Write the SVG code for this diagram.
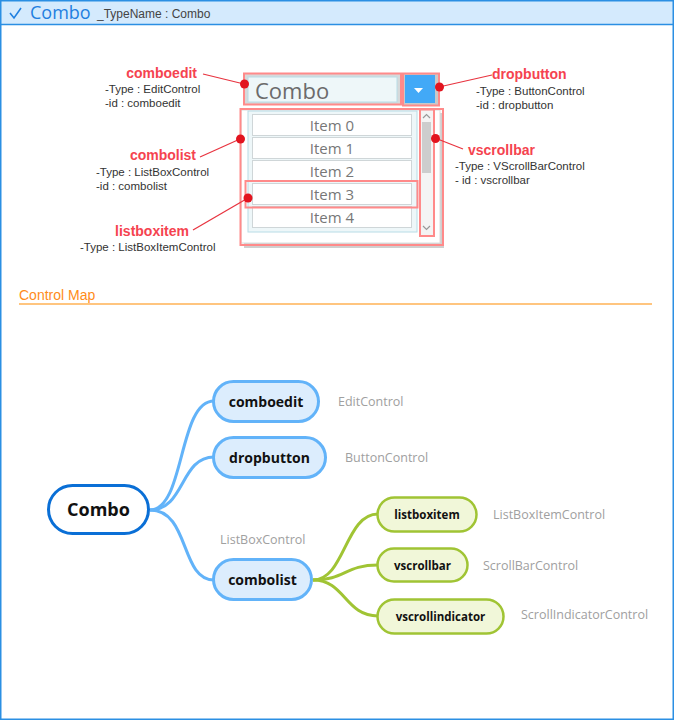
<svg xmlns="http://www.w3.org/2000/svg" width="674" height="720" viewBox="0 0 674 720">
<style>
.lbl{font-family:"Liberation Sans",Arial,sans-serif;font-size:14px;font-weight:bold;fill:#f5434f}
.info{font-family:"Liberation Sans",Arial,sans-serif;font-size:11.5px;fill:#333}
.item{font-family:"Open Sans","Noto Sans",sans-serif;font-size:15px;fill:#777;text-anchor:middle}
.hl{fill:none;stroke:#ff8a8a;stroke-width:2}
.dot{fill:#e2141f}
.lead{stroke:#e8333f;stroke-width:1.2;fill:none}
.n1{fill:#dcedfd;stroke:#62b3f9;stroke-width:3}
.n2{fill:#f1f7d9;stroke:#a0c434;stroke-width:2.5}
.nt{font-family:"Open Sans","Noto Sans",sans-serif;font-weight:bold;fill:#111;text-anchor:middle}
.tp{font-family:"Open Sans","Noto Sans",sans-serif;font-size:12.5px;fill:#a0a0a0}
.lb{fill:#fff;stroke:#cfd6d8;stroke-width:1}
</style>
<rect x="0" y="0" width="674" height="720" fill="#fff"/>
<rect x="0.5" y="0.5" width="673" height="24" fill="#d4eafd"/>
<line x1="0" y1="24.5" x2="674" y2="24.5" stroke="#2b8fe3" stroke-width="1.5"/>
<rect x="0.75" y="0.75" width="672.5" height="718.5" fill="none" stroke="#2b8fe3" stroke-width="1.5"/>
<path d="M10,13 L14,18 L21,8" fill="none" stroke="#1f7fe0" stroke-width="1.6"/>
<text x="30" y="19" font-family="'Open Sans','Noto Sans',sans-serif" font-size="18" fill="#1f7fe0">Combo</text>
<text x="97" y="18" font-family="'Liberation Sans',Arial,sans-serif" font-size="12" fill="#444">_TypeName : Combo</text>

<g id="widget">
<rect x="244" y="74" width="156" height="30" fill="#d6d9da"/>
<rect x="248" y="77" width="149" height="25" fill="#eef7f9" stroke="#b8dce6" stroke-width="1"/>
<text x="255" y="99" font-family="'Open Sans','Noto Sans',sans-serif" font-size="22" fill="#6b6b6b">Combo</text>
<rect x="403" y="74" width="35" height="31" fill="#c9c9c9"/>
<rect x="405" y="75" width="30" height="28" fill="#42a9f7"/>
<path d="M414,88 L423,88 L418.5,93 Z" fill="#fff"/>
<rect x="244" y="113" width="200" height="135" fill="#cfcfcf"/>
<rect x="241" y="110" width="199" height="133" fill="#fff" stroke="#dcdcdc"/>
<rect x="248" y="111" width="169" height="121" fill="#eef7f9" stroke="#b8dce6" stroke-width="1"/>
<rect x="252.5" y="114.5" width="159" height="21" class="lb"/>
<rect x="252.5" y="137.5" width="159" height="21" class="lb"/>
<rect x="252.5" y="160.5" width="159" height="21" class="lb"/>
<rect x="252.5" y="183.5" width="159" height="21" class="lb"/>
<rect x="252.5" y="206.5" width="159" height="21" class="lb"/>
<text x="332" y="131" class="item">Item 0</text>
<text x="332" y="154" class="item">Item 1</text>
<text x="332" y="177" class="item">Item 2</text>
<text x="332" y="200" class="item">Item 3</text>
<text x="332" y="223" class="item">Item 4</text>
<rect x="420" y="111" width="13" height="124" fill="#f4f4f4"/>
<rect x="422" y="122" width="9" height="51" fill="#cdcdcd"/>
<path d="M423,118 L426.5,114.5 L430,118" fill="none" stroke="#999" stroke-width="1.2"/>
<path d="M423,226 L426.5,229.5 L430,226" fill="none" stroke="#999" stroke-width="1.2"/>
<rect x="244" y="73.5" width="157" height="31" class="hl"/>
<rect x="403" y="73.5" width="36" height="32" class="hl"/>
<rect x="240.5" y="109" width="202.5" height="136" class="hl"/>
<rect x="245.5" y="181" width="172" height="26.5" class="hl"/>
<rect x="420" y="109.5" width="14" height="126.5" class="hl"/>
</g>

<g id="annotations">
<line x1="203" y1="74" x2="244" y2="84" class="lead"/>
<line x1="439" y1="87" x2="492" y2="75" class="lead"/>
<line x1="200" y1="157" x2="240" y2="139" class="lead"/>
<line x1="193" y1="230" x2="248" y2="198" class="lead"/>
<line x1="435" y1="138" x2="463" y2="149" class="lead"/>
<circle cx="244.5" cy="84" r="4.5" class="dot"/>
<circle cx="439.5" cy="87" r="4.5" class="dot"/>
<circle cx="240.5" cy="139" r="4.5" class="dot"/>
<circle cx="248" cy="198" r="4.5" class="dot"/>
<circle cx="435.5" cy="138.5" r="4.5" class="dot"/>
<text x="197" y="78" class="lbl" text-anchor="end">comboedit</text>
<text x="105" y="93" class="info">-Type : EditControl</text>
<text x="105" y="107" class="info">-id : comboedit</text>
<text x="492" y="79" class="lbl">dropbutton</text>
<text x="476" y="95" class="info">-Type : ButtonControl</text>
<text x="476" y="109" class="info">-id : dropbutton</text>
<text x="196" y="160" class="lbl" text-anchor="end">combolist</text>
<text x="96" y="176" class="info">-Type : ListBoxControl</text>
<text x="96" y="190" class="info">-id : combolist</text>
<text x="468" y="155" class="lbl">vscrollbar</text>
<text x="455" y="170" class="info">-Type : VScrollBarControl</text>
<text x="455" y="184" class="info">- id : vscrollbar</text>
<text x="189" y="236" class="lbl" text-anchor="end">listboxitem</text>
<text x="80" y="251" class="info">-Type : ListBoxItemControl</text>
</g>

<text x="19" y="300" font-family="'Liberation Sans',Arial,sans-serif" font-size="14" fill="#ff8c1a">Control Map</text>
<line x1="19" y1="304" x2="652" y2="304" stroke="#ff8c00" stroke-width="1.2"/>

<g id="connectors" fill="none" stroke-width="3">
<path d="M150,510 C185,510 178,401 214,401" stroke="#62b3f9"/>
<path d="M150,510 C185,510 180,457 214,457" stroke="#62b3f9"/>
<path d="M150,510 C190,510 180,580 214,580" stroke="#62b3f9"/>
<path d="M313,580 C345,580 345,514 378,514" stroke="#a0c434"/>
<path d="M313,580 C345,580 345,565 378,565" stroke="#a0c434"/>
<path d="M313,580 C345,580 345,616 378,616" stroke="#a0c434"/>
</g>

<g id="node-combo">
<rect x="48.5" y="485.5" width="100" height="48" rx="24" fill="#fff" stroke="#0a6fd6" stroke-width="3"/>
<text x="98.5" y="516" class="nt" font-size="18">Combo</text>
</g>
<g id="node-comboedit">
<rect x="213.5" y="381.5" width="105" height="40" rx="20" class="n1"/>
<text x="266" y="406.5" class="nt" font-size="14">comboedit</text>
</g>
<text x="338" y="406" class="tp">EditControl</text>
<g id="node-dropbutton">
<rect x="213.5" y="437.5" width="112" height="40" rx="20" class="n1"/>
<text x="269.5" y="462.5" class="nt" font-size="14">dropbutton</text>
</g>
<text x="345" y="462" class="tp">ButtonControl</text>
<g id="node-combolist">
<rect x="213.5" y="559.5" width="98" height="40" rx="20" class="n1"/>
<text x="262.5" y="584.5" class="nt" font-size="14">combolist</text>
</g>
<text x="220" y="544" class="tp">ListBoxControl</text>
<g id="node-listboxitem">
<rect x="377.5" y="497.5" width="99" height="34" rx="17" class="n2"/>
<text x="427" y="518.5" class="nt" font-size="11.5">listboxitem</text>
</g>
<text x="493" y="519" class="tp">ListBoxItemControl</text>
<g id="node-vscrollbar">
<rect x="377.5" y="548.5" width="90" height="33" rx="16.5" class="n2"/>
<text x="422.5" y="569.5" class="nt" font-size="11.5">vscrollbar</text>
</g>
<text x="483" y="570" class="tp">ScrollBarControl</text>
<g id="node-vscrollindicator">
<rect x="377.5" y="599.5" width="126" height="34" rx="17" class="n2"/>
<text x="440.5" y="620.5" class="nt" font-size="11.5">vscrollindicator</text>
</g>
<text x="521" y="619" class="tp">ScrollIndicatorControl</text>
</svg>
